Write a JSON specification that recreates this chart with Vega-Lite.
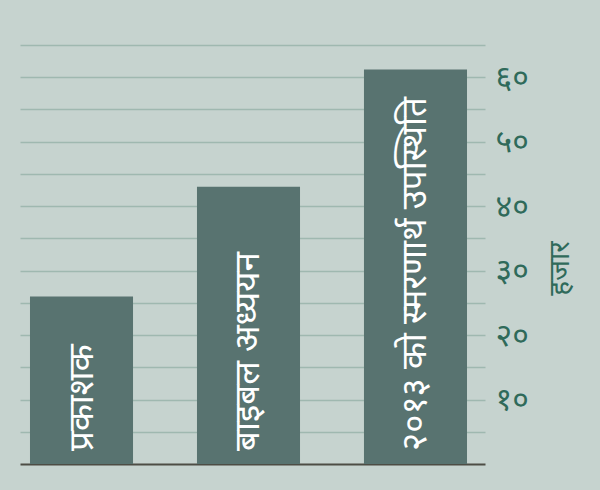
{
  "$schema": "https://vega.github.io/schema/vega-lite/v6.json",
  "width": 465,
  "height": 419,
  "autosize": {"type": "none"},
  "padding": {"left": 20, "top": 45, "right": 115, "bottom": 26},
  "background": "#c6d3cf",
  "config": {
    "view": {"stroke": null},
    "font": "Noto Sans"
  },
  "data": {
    "values": [
      {"group": "प्रकाशक", "value": 26},
      {"group": "बाइबल अध्ययन", "value": 43},
      {"group": "२०१३ को स्मरणार्थ उपस्थिति", "value": 61.2}
    ]
  },
  "resolve": {"axis": {"y": "independent"}},
  "encoding": {
    "x": {
      "field": "group",
      "type": "nominal",
      "sort": null,
      "scale": {"paddingInner": 0.383, "paddingOuter": 0.0838, "align": 0.357},
      "axis": {
        "title": null,
        "labels": false,
        "ticks": false,
        "domainColor": "#4d4d45",
        "domainWidth": 2
      }
    }
  },
  "layer": [
    {
      "mark": {"type": "bar", "color": "#587370"},
      "encoding": {
        "y": {
          "field": "value",
          "type": "quantitative",
          "scale": {"domain": [0, 65], "nice": false},
          "axis": {
            "orient": "right",
            "values": [5, 10, 15, 20, 25, 30, 35, 40, 45, 50, 55, 60, 65],
            "grid": true,
            "gridColor": "#9fb8b0",
            "gridWidth": 1.5,
            "domain": false,
            "ticks": false,
            "labelOverlap": false,
            "labelPadding": 10,
            "labelFontSize": 32,
            "labelColor": "#2f6a5a",
            "labelExpr": "datum.value == 10 ? '१०' : datum.value == 20 ? '२०' : datum.value == 30 ? '३०' : datum.value == 40 ? '४०' : datum.value == 50 ? '५०' : datum.value == 60 ? '६०' : ''",
            "title": "हजार",
            "titleAngle": 270,
            "titleFontSize": 28,
            "titleFontWeight": "normal",
            "titleColor": "#2f6a5a",
            "titleX": 75,
            "titleY": 223,
            "titleBaseline": "middle",
            "titleAlign": "center"
          }
        }
      }
    },
    {
      "mark": {
        "type": "text",
        "angle": 270,
        "align": "left",
        "baseline": "middle",
        "dx": 13,
        "color": "white",
        "fontSize": 35
      },
      "encoding": {
        "y": {"datum": 0, "type": "quantitative", "axis": null},
        "text": {"field": "group"}
      }
    }
  ]
}
